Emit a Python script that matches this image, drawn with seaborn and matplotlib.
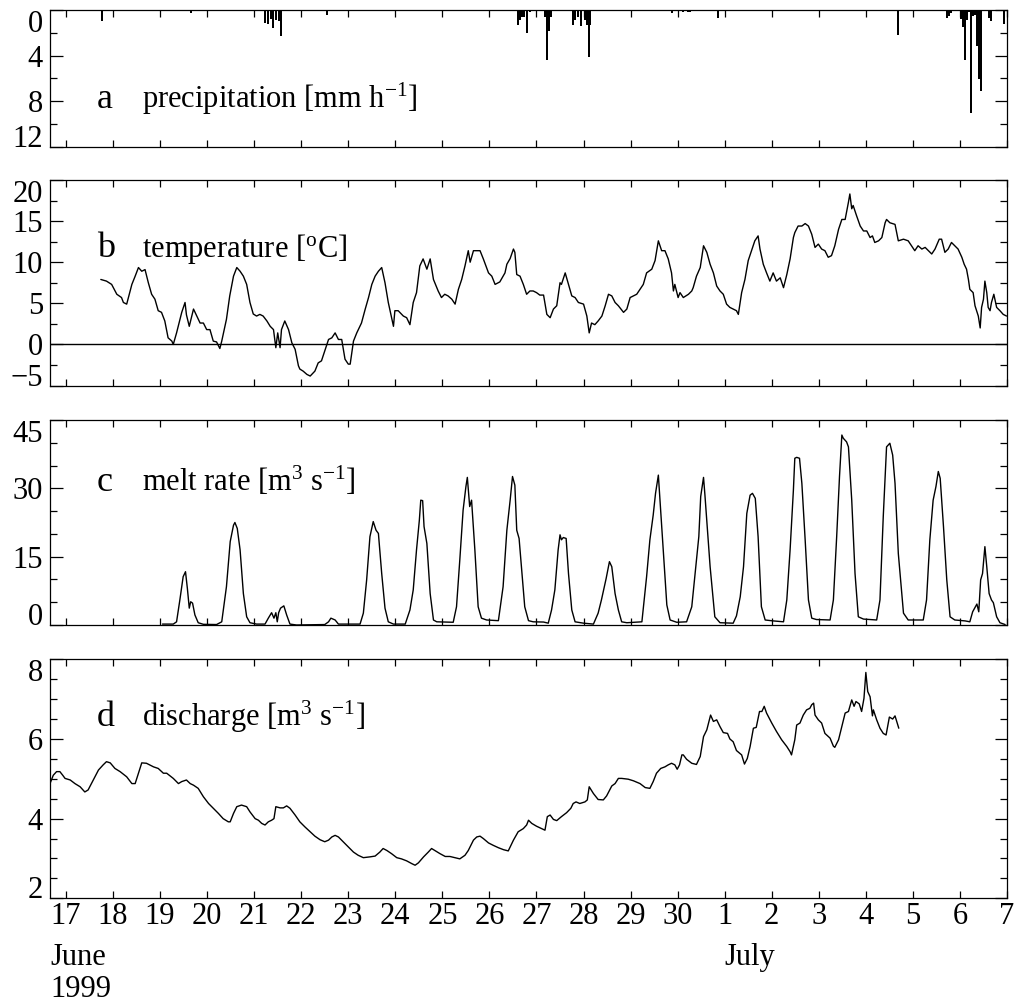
import matplotlib
matplotlib.use("Agg")
import matplotlib.pyplot as plt
import matplotlib.transforms as mtransforms
import pandas as pd
import seaborn as sns

# time in days counted from 1 June 1999 (so 1 July = 31)
day_ticks = list(range(17, 38))
day_labels = [str(d) for d in range(17, 31)] + [str(d) for d in range(1, 8)]

# a: hourly precipitation [mm/h], only the non-zero hours
precip_time = [17.77, 19.66, 21.23, 21.29, 21.36, 21.40, 21.46, 21.53, 21.57, 22.55,
               26.60, 26.65, 26.70, 26.74, 26.80, 26.86, 27.07, 27.18, 27.22, 27.27,
               27.31, 27.52, 27.78, 27.82, 27.88, 27.95, 28.04, 28.07, 28.11, 28.14,
               28.41, 29.89, 30.11, 30.22, 30.26, 30.86, 34.68, 35.72, 35.76, 35.80,
               35.90, 36.02, 36.06, 36.10, 36.15, 36.19, 36.23, 36.28, 36.32, 36.36,
               36.40, 36.45, 36.49, 36.62, 36.66, 36.80, 36.94]
precip_rate = [1.0, 0.25, 1.1, 1.2, 0.8, 1.6, 0.9, 1.0, 2.3, 0.4,
               1.3, 0.85, 0.65, 0.65, 2.0, 0.2, 0.1, 0.6, 4.4, 1.8,
               0.6, 0.1, 1.3, 0.9, 0.6, 1.4, 0.9, 1.3, 4.1, 1.3,
               0.1, 0.25, 0.2, 0.2, 0.2, 0.7, 2.2, 0.7, 0.5, 0.3,
               0.1, 0.8, 1.5, 4.4, 0.9, 0.2, 9.0, 0.5, 0.4, 3.2,
               6.1, 7.1, 0.1, 0.7, 1.0, 0.1, 1.2]

# b: air temperature [deg C]
temp_time = [17.74, 17.86, 17.97, 18.08, 18.18, 18.22, 18.29, 18.40, 18.47, 18.54,
             18.61, 18.68, 18.75, 18.82, 18.89, 18.96, 19.03, 19.10, 19.17, 19.25,
             19.28, 19.35, 19.46, 19.53, 19.56, 19.62, 19.71, 19.78, 19.85, 19.92,
             19.99, 20.06, 20.13, 20.20, 20.27, 20.31, 20.41, 20.48, 20.56, 20.63,
             20.70, 20.77, 20.84, 20.91, 20.98, 21.05, 21.12, 21.19, 21.27, 21.34,
             21.41, 21.46, 21.50, 21.55, 21.58, 21.65, 21.73, 21.80, 21.87, 21.94,
             21.97, 22.04, 22.12, 22.19, 22.29, 22.36, 22.43, 22.50, 22.58, 22.65,
             22.72, 22.79, 22.86, 22.93, 23.00, 23.04, 23.11, 23.18, 23.28, 23.36,
             23.43, 23.50, 23.57, 23.64, 23.71, 23.78, 23.85, 23.96, 23.99, 24.06,
             24.17, 24.24, 24.31, 24.38, 24.45, 24.52, 24.59, 24.67, 24.74, 24.81,
             24.91, 24.98, 25.05, 25.12, 25.20, 25.27, 25.34, 25.41, 25.48, 25.55,
             25.59, 25.66, 25.80, 25.87, 25.98, 26.05, 26.12, 26.22, 26.33, 26.37,
             26.44, 26.51, 26.54, 26.58, 26.65, 26.72, 26.79, 26.86, 26.93, 27.00,
             27.07, 27.15, 27.22, 27.29, 27.36, 27.43, 27.50, 27.53, 27.61, 27.68,
             27.75, 27.82, 27.89, 28.00, 28.07, 28.12, 28.17, 28.24, 28.31, 28.39,
             28.46, 28.53, 28.60, 28.67, 28.74, 28.85, 28.92, 28.99, 29.06, 29.13,
             29.20, 29.27, 29.34, 29.45, 29.52, 29.59, 29.66, 29.73, 29.80, 29.87,
             29.91, 29.94, 30.01, 30.05, 30.12, 30.23, 30.30, 30.33, 30.40, 30.48,
             30.55, 30.62, 30.69, 30.76, 30.83, 30.90, 30.97, 31.04, 31.11, 31.18,
             31.25, 31.29, 31.36, 31.43, 31.50, 31.57, 31.64, 31.71, 31.75, 31.82,
             31.89, 31.96, 32.03, 32.10, 32.18, 32.25, 32.32, 32.39, 32.46, 32.49,
             32.56, 32.64, 32.71, 32.78, 32.85, 32.92, 32.99, 33.06, 33.13, 33.20,
             33.27, 33.34, 33.42, 33.49, 33.56, 33.63, 33.66, 33.70, 33.73, 33.80,
             33.88, 33.95, 34.02, 34.09, 34.14, 34.19, 34.27, 34.34, 34.41, 34.44,
             34.51, 34.62, 34.69, 34.80, 34.90, 34.97, 35.04, 35.11, 35.19, 35.26,
             35.33, 35.40, 35.47, 35.56, 35.61, 35.68, 35.75, 35.82, 35.89, 35.96,
             36.04, 36.09, 36.14, 36.18, 36.21, 36.28, 36.32, 36.39, 36.43, 36.46,
             36.50, 36.53, 36.57, 36.60, 36.64, 36.67, 36.72, 36.78, 36.85, 36.92,
             36.99]
temp_value = [7.9, 7.7, 7.3, 6.1, 5.7, 5.1, 4.9, 7.3, 8.3, 9.35,
              8.9, 9.1, 7.5, 6.1, 5.5, 4.1, 3.9, 2.85, 0.8, 0.4,
              0.0, 1.4, 3.9, 5.1, 3.6, 2.2, 4.3, 3.45, 2.6, 2.6,
              1.8, 1.8, 0.4, 0.3, -0.5, 0.4, 3.05, 5.9, 8.3, 9.35,
              8.9, 8.3, 7.3, 5.1, 3.7, 3.45, 3.65, 3.45, 2.85, 2.2,
              1.8, -0.4, 1.4, -0.4, 1.8, 2.85, 1.8, 0.2, -0.6, -2.6,
              -3.0, -3.25, -3.65, -3.85, -3.25, -2.25, -2.0, -0.8, 0.6, 0.8,
              1.4, 0.6, 0.6, -1.8, -2.4, -2.4, 0.4, 1.4, 2.6, 4.3,
              5.7, 7.3, 8.3, 8.9, 9.35, 7.5, 5.1, 2.2, 4.1, 4.1,
              3.45, 3.25, 2.4, 5.1, 6.3, 9.55, 10.4, 9.15, 10.4, 7.9,
              6.5, 5.7, 6.1, 5.9, 5.5, 4.9, 6.7, 7.9, 9.55, 11.4,
              10.0, 11.4, 11.4, 10.4, 8.7, 8.3, 7.3, 7.6, 8.7, 9.75,
              10.45, 11.6, 11.2, 8.5, 8.3, 7.3, 6.1, 6.5, 6.5, 6.3,
              6.0, 6.0, 3.65, 3.25, 4.3, 4.7, 7.5, 7.3, 8.7, 7.3,
              5.9, 5.7, 5.1, 4.9, 3.45, 1.4, 2.6, 2.4, 2.85, 3.45,
              4.7, 6.1, 5.9, 5.1, 4.7, 3.9, 4.3, 5.7, 5.9, 6.1,
              6.7, 7.3, 8.7, 9.15, 10.2, 12.6, 11.4, 11.4, 10.4, 8.7,
              6.5, 7.3, 5.7, 6.3, 5.7, 6.1, 6.5, 6.9, 8.3, 9.35,
              12.0, 11.2, 9.75, 8.7, 7.1, 6.5, 6.1, 4.9, 4.5, 4.3,
              4.1, 3.65, 6.3, 7.9, 10.2, 11.4, 12.6, 13.2, 11.6, 9.75,
              8.7, 7.7, 8.7, 7.7, 8.1, 6.9, 8.5, 10.4, 13.0, 13.6,
              14.4, 14.4, 14.7, 14.4, 13.4, 11.8, 12.2, 11.6, 11.4, 10.6,
              10.8, 12.0, 14.0, 15.2, 15.2, 17.3, 18.3, 16.5, 16.9, 15.7,
              14.4, 13.8, 13.8, 13.0, 13.2, 12.4, 12.6, 13.0, 14.8, 15.2,
              14.8, 14.6, 12.6, 12.8, 12.6, 12.0, 11.4, 12.0, 11.6, 11.8,
              11.4, 11.0, 11.6, 12.8, 12.8, 11.2, 11.6, 12.4, 12.0, 11.6,
              10.6, 9.75, 9.15, 7.9, 6.7, 6.3, 4.7, 3.45, 2.0, 4.5,
              5.5, 7.7, 6.3, 4.5, 4.1, 5.1, 6.1, 4.5, 4.1, 3.65,
              3.45]

# c: melt rate [m3/s]
melt_time = [19.05, 19.28, 19.35, 19.42, 19.49, 19.54, 19.58, 19.62, 19.65, 19.69,
             19.74, 19.81, 19.92, 20.20, 20.31, 20.41, 20.49, 20.56, 20.59, 20.64,
             20.70, 20.77, 20.84, 20.91, 21.05, 21.23, 21.30, 21.37, 21.42, 21.46,
             21.49, 21.52, 21.56, 21.63, 21.69, 21.76, 21.90, 22.50, 22.58, 22.63,
             22.72, 22.79, 23.25, 23.32, 23.39, 23.46, 23.53, 23.59, 23.64, 23.71,
             23.78, 23.85, 23.96, 24.21, 24.31, 24.38, 24.45, 24.51, 24.54, 24.58,
             24.61, 24.67, 24.74, 24.81, 24.88, 25.23, 25.30, 25.37, 25.44, 25.50,
             25.53, 25.58, 25.62, 25.69, 25.76, 25.83, 25.94, 26.19, 26.29, 26.37,
             26.44, 26.49, 26.54, 26.58, 26.63, 26.68, 26.75, 26.83, 26.93, 27.15,
             27.25, 27.32, 27.39, 27.46, 27.50, 27.53, 27.57, 27.63, 27.68, 27.75,
             27.82, 28.00, 28.21, 28.31, 28.38, 28.48, 28.55, 28.60, 28.67, 28.74,
             28.81, 28.92, 29.24, 29.34, 29.41, 29.48, 29.53, 29.59, 29.62, 29.70,
             29.77, 29.84, 29.98, 30.19, 30.30, 30.37, 30.45, 30.49, 30.55, 30.58,
             30.69, 30.79, 30.90, 31.18, 31.25, 31.33, 31.40, 31.47, 31.54, 31.59,
             31.65, 31.71, 31.78, 31.86, 32.03, 32.25, 32.32, 32.39, 32.46, 32.49,
             32.53, 32.59, 32.64, 32.71, 32.78, 32.85, 32.95, 33.24, 33.31, 33.38,
             33.44, 33.49, 33.52, 33.59, 33.63, 33.70, 33.77, 33.84, 33.95, 34.23,
             34.30, 34.37, 34.44, 34.51, 34.57, 34.62, 34.69, 34.80, 34.90, 35.22,
             35.29, 35.36, 35.43, 35.49, 35.54, 35.58, 35.65, 35.72, 35.79, 35.89,
             36.11, 36.21, 36.27, 36.36, 36.40, 36.44, 36.48, 36.53, 36.57, 36.62,
             36.67, 36.71, 36.78, 36.85, 36.96]
melt_value = [0.2, 0.2, 0.7, 5.5, 10.6, 11.7, 8.0, 3.7, 5.1, 4.8,
              2.2, 0.5, 0.15, 0.1, 0.7, 8.4, 18.3, 21.9, 22.5, 21.2,
              16.5, 6.9, 1.8, 0.5, 0.2, 0.2, 1.5, 2.7, 1.5, 2.7,
              0.7, 2.7, 3.7, 4.2, 2.2, 0.2, 0.0, 0.1, 0.7, 1.5,
              1.1, 0.2, 0.2, 2.6, 9.9, 19.4, 22.7, 20.8, 20.1, 11.3,
              3.7, 0.7, 0.2, 0.2, 3.3, 7.7, 16.5, 23.0, 27.4, 27.3,
              21.6, 17.9, 6.9, 1.1, 0.7, 0.6, 4.0, 14.3, 25.2, 30.4,
              32.4, 26.0, 27.4, 16.5, 4.0, 1.5, 1.1, 0.95, 8.4, 20.8,
              27.4, 32.6, 30.7, 20.8, 19.0, 12.8, 4.0, 0.95, 0.7, 0.65,
              0.4, 3.3, 7.7, 16.5, 19.8, 18.7, 19.2, 19.0, 11.3, 3.3,
              0.7, 0.4, 0.2, 2.6, 5.5, 10.2, 13.9, 12.8, 6.9, 3.3,
              0.7, 0.5, 0.7, 10.6, 18.7, 24.1, 28.9, 32.9, 28.2, 15.7,
              4.4, 1.1, 0.6, 0.7, 4.0, 11.3, 19.4, 28.2, 32.4, 28.5,
              12.8, 1.8, 0.5, 0.4, 2.0, 6.2, 12.8, 24.5, 28.5, 28.9,
              27.8, 19.4, 4.0, 1.1, 0.9, 0.7, 5.5, 16.5, 29.6, 36.6,
              36.8, 36.6, 31.1, 18.7, 5.5, 1.5, 1.2, 1.1, 5.5, 19.4,
              32.6, 41.7, 41.0, 40.2, 39.1, 27.4, 11.3, 1.8, 1.3, 1.1,
              5.5, 23.8, 39.1, 39.9, 37.3, 31.1, 15.7, 2.6, 1.1, 1.1,
              5.5, 18.7, 27.4, 30.4, 33.7, 32.2, 21.6, 9.9, 1.8, 1.1,
              0.9, 0.7, 2.9, 4.6, 2.9, 9.9, 11.3, 17.2, 12.8, 6.9,
              5.5, 4.9, 1.8, 0.5, 0.1]

# d: discharge [m3/s]
q_time = [16.66, 16.73, 16.80, 16.87, 16.93, 16.98, 17.09, 17.19, 17.30, 17.40,
          17.47, 17.58, 17.69, 17.79, 17.86, 17.94, 18.04, 18.15, 18.29, 18.40,
          18.47, 18.54, 18.61, 18.71, 18.86, 18.96, 19.07, 19.14, 19.28, 19.39,
          19.46, 19.56, 19.64, 19.71, 19.81, 19.92, 20.03, 20.13, 20.24, 20.34,
          20.45, 20.49, 20.56, 20.63, 20.73, 20.84, 20.91, 21.02, 21.09, 21.16,
          21.23, 21.30, 21.37, 21.42, 21.46, 21.55, 21.62, 21.69, 21.76, 21.87,
          21.97, 22.08, 22.19, 22.29, 22.40, 22.50, 22.58, 22.65, 22.72, 22.79,
          22.89, 23.00, 23.11, 23.21, 23.32, 23.46, 23.57, 23.67, 23.74, 23.82,
          23.92, 24.03, 24.13, 24.24, 24.35, 24.42, 24.49, 24.60, 24.70, 24.77,
          24.84, 24.95, 25.06, 25.16, 25.27, 25.37, 25.48, 25.55, 25.66, 25.73,
          25.80, 25.87, 25.98, 26.08, 26.19, 26.30, 26.40, 26.51, 26.61, 26.72,
          26.79, 26.83, 26.90, 27.00, 27.11, 27.18, 27.23, 27.29, 27.36, 27.43,
          27.53, 27.64, 27.73, 27.78, 27.84, 27.92, 28.03, 28.08, 28.12, 28.21,
          28.31, 28.42, 28.49, 28.60, 28.67, 28.74, 28.81, 28.95, 29.06, 29.20,
          29.31, 29.41, 29.48, 29.55, 29.64, 29.73, 29.80, 29.87, 29.94, 29.99,
          30.04, 30.09, 30.12, 30.19, 30.30, 30.40, 30.48, 30.55, 30.62, 30.70,
          30.76, 30.83, 30.90, 30.97, 31.06, 31.11, 31.18, 31.25, 31.36, 31.42,
          31.48, 31.54, 31.61, 31.67, 31.74, 31.79, 31.84, 31.89, 32.00, 32.10,
          32.21, 32.32, 32.39, 32.42, 32.49, 32.53, 32.60, 32.67, 32.74, 32.81,
          32.85, 32.89, 32.92, 32.99, 33.06, 33.13, 33.24, 33.31, 33.34, 33.42,
          33.49, 33.56, 33.63, 33.70, 33.75, 33.79, 33.86, 33.91, 33.96, 34.00,
          34.04, 34.09, 34.14, 34.16, 34.23, 34.30, 34.37, 34.43, 34.50, 34.57,
          34.62, 34.70]
q_value = [4.88, 5.09, 5.18, 5.18, 5.09, 5.01, 4.97, 4.88, 4.80, 4.67,
           4.72, 4.97, 5.22, 5.35, 5.43, 5.40, 5.26, 5.18, 5.05, 4.88,
           4.88, 5.14, 5.40, 5.39, 5.30, 5.26, 5.14, 5.14, 5.01, 4.88,
           4.93, 4.97, 4.88, 4.84, 4.76, 4.55, 4.38, 4.26, 4.13, 4.00,
           3.92, 3.92, 4.13, 4.30, 4.34, 4.30, 4.17, 4.00, 3.96, 3.88,
           3.84, 3.92, 3.96, 4.00, 4.30, 4.27, 4.27, 4.32, 4.26, 4.09,
           3.92, 3.79, 3.67, 3.56, 3.47, 3.42, 3.46, 3.54, 3.58, 3.54,
           3.42, 3.29, 3.16, 3.08, 3.02, 3.04, 3.06, 3.16, 3.25, 3.20,
           3.12, 3.02, 2.99, 2.94, 2.87, 2.83, 2.89, 3.04, 3.16, 3.25,
           3.20, 3.12, 3.05, 3.05, 3.02, 2.99, 3.08, 3.20, 3.46, 3.54,
           3.56, 3.50, 3.39, 3.33, 3.27, 3.22, 3.19, 3.46, 3.67, 3.75,
           3.84, 3.96, 3.88, 3.81, 3.75, 3.71, 4.05, 4.09, 3.98, 3.95,
           4.05, 4.15, 4.26, 4.38, 4.42, 4.38, 4.42, 4.47, 4.80, 4.63,
           4.48, 4.47, 4.57, 4.82, 4.88, 5.01, 5.01, 4.99, 4.95, 4.88,
           4.78, 4.76, 4.93, 5.14, 5.26, 5.30, 5.35, 5.39, 5.35, 5.24,
           5.35, 5.60, 5.60, 5.49, 5.39, 5.36, 5.56, 6.06, 6.23, 6.60,
           6.44, 6.48, 6.31, 6.16, 6.14, 6.00, 5.93, 5.71, 5.60, 5.37,
           5.51, 5.81, 6.27, 6.29, 6.69, 6.69, 6.82, 6.65, 6.40, 6.19,
           5.98, 5.81, 5.68, 5.60, 5.98, 6.35, 6.40, 6.60, 6.73, 6.77,
           6.86, 6.90, 6.60, 6.48, 6.40, 6.14, 6.02, 5.82, 5.79, 5.98,
           6.31, 6.65, 6.69, 6.98, 6.82, 6.94, 6.88, 6.69, 7.02, 7.67,
           7.19, 7.06, 6.58, 6.73, 6.48, 6.27, 6.14, 6.10, 6.55, 6.50,
           6.58, 6.27]

sns.set_theme(style="ticks")
plt.rcParams["font.family"] = ["Liberation Serif", "DejaVu Serif"]
plt.rcParams["mathtext.fontset"] = "custom"
plt.rcParams["mathtext.rm"] = "Liberation Serif"
plt.rcParams["mathtext.it"] = "Liberation Serif:italic"
plt.rcParams["mathtext.bf"] = "Liberation Serif:bold"
plt.rcParams["text.color"] = "black"
plt.rcParams["axes.labelcolor"] = "black"
plt.rcParams["xtick.color"] = "black"
plt.rcParams["ytick.color"] = "black"

fig = plt.figure(figsize=(10.17, 10.05), dpi=100)


def box(top_px, bottom_px):
    return [50 / 1017, 1 - bottom_px / 1005, 957 / 1017, (bottom_px - top_px) / 1005]


ax_a = fig.add_axes(box(10, 146.7))
ax_b = fig.add_axes(box(180, 385.5))
ax_c = fig.add_axes(box(420, 625))
ax_d = fig.add_axes(box(659.3, 898.3))

# precipitation bars hang down from the top
ax_a.bar(precip_time, precip_rate, width=1 / 24, color="black", linewidth=0)

temp_df = pd.DataFrame({"t": temp_time, "v": temp_value})
sns.lineplot(data=temp_df, x="t", y="v", ax=ax_b, color="black", linewidth=1.0,
             estimator=None, sort=False)
ax_b.axhline(0, color="black", linewidth=1.0)

melt_df = pd.DataFrame({"t": melt_time, "v": melt_value})
sns.lineplot(data=melt_df, x="t", y="v", ax=ax_c, color="black", linewidth=1.0,
             estimator=None, sort=False)

q_df = pd.DataFrame({"t": q_time, "v": q_value})
sns.lineplot(data=q_df, x="t", y="v", ax=ax_d, color="black", linewidth=1.0,
             estimator=None, sort=False)


def style_axis(ax, ylim, major, minor):
    ax.set_xlim(16.66, 37)
    ax.set_ylim(*ylim)
    ax.set_xticks(day_ticks)
    ax.set_xticklabels(day_labels)
    ax.set_yticks(major)
    ax.set_yticklabels([str(m).replace("-", "\u2212") for m in major])
    ax.set_yticks(minor, minor=True)
    ax.set_xticks([], minor=True)
    ax.tick_params(direction="in", top=True, right=True, which="both",
                   width=0.9, color="black", labelcolor="black", labelsize=22)
    ax.tick_params(axis="x", which="major", length=5, pad=3)
    ax.tick_params(axis="y", which="major", length=9, pad=5)
    ax.tick_params(axis="y", which="minor", length=5)
    for s in ax.spines.values():
        s.set_visible(True)
        s.set_color("black")
        s.set_linewidth(0.9)
    ax.set_xlabel("")
    ax.set_ylabel("")
    ax.grid(False)


style_axis(ax_a, (12, 0), [0, 4, 8, 12], [2, 6, 10])
style_axis(ax_b, (-5, 20), [-5, 0, 5, 10, 15, 20], [-2.5, 2.5, 7.5, 12.5, 17.5])
style_axis(ax_c, (0, 45), [0, 15, 30, 45], [5, 10, 20, 25, 35, 40])
style_axis(ax_d, (2, 8), [2, 4, 6, 8], [2.5, 3, 3.5, 4.5, 5, 5.5, 6.5, 7, 7.5])
for ax in (ax_a, ax_b, ax_c):
    ax.tick_params(axis="x", labelbottom=False)

# longer tick marking the start of July
ax_a.set_xticks([31], minor=True)
ax_a.tick_params(axis="x", which="minor", length=13.5, bottom=False, top=True)
ax_d.set_xticks([31], minor=True)
ax_d.tick_params(axis="x", which="minor", length=11, bottom=True, top=True)

# keep the end labels inside the frame like the original
for ax in (ax_a, ax_b, ax_c, ax_d):
    labs = ax.get_yticklabels()
    lo, hi = ax.get_ylim()
    if lo > hi:
        labs[0].set_va("top")
        labs[-1].set_va("baseline")
    else:
        labs[0].set_va("baseline")
        labs[-1].set_va("top")

panel_text = [
    (ax_a, "a", r"precipitation [mm h$^{-1}$]", 0.285),
    (ax_b, "b", r"temperature [$^{\rm o}$C]", 0.625),
    (ax_c, "c", r"melt rate [m$^{3}$ s$^{-1}$]", 0.655),
    (ax_d, "d", r"discharge [m$^{3}$ s$^{-1}$]", 0.721),
]
for ax, letter, label, yb in panel_text:
    ax.text(0.049, yb, letter, transform=ax.transAxes, fontsize=26, va="baseline")
    ax.text(0.096, yb, label, transform=ax.transAxes, fontsize=22, va="baseline")

trans = mtransforms.blended_transform_factory(ax_d.transData, ax_d.transAxes)
ax_d.text(0.0, -0.28, "June", transform=ax_d.transAxes, fontsize=22, va="baseline")
ax_d.text(0.0, -0.412, "1999", transform=ax_d.transAxes, fontsize=22, va="baseline")
ax_d.text(31, -0.28, "July", transform=trans, fontsize=22, va="baseline")

fig.savefig("out.png", dpi=100)
